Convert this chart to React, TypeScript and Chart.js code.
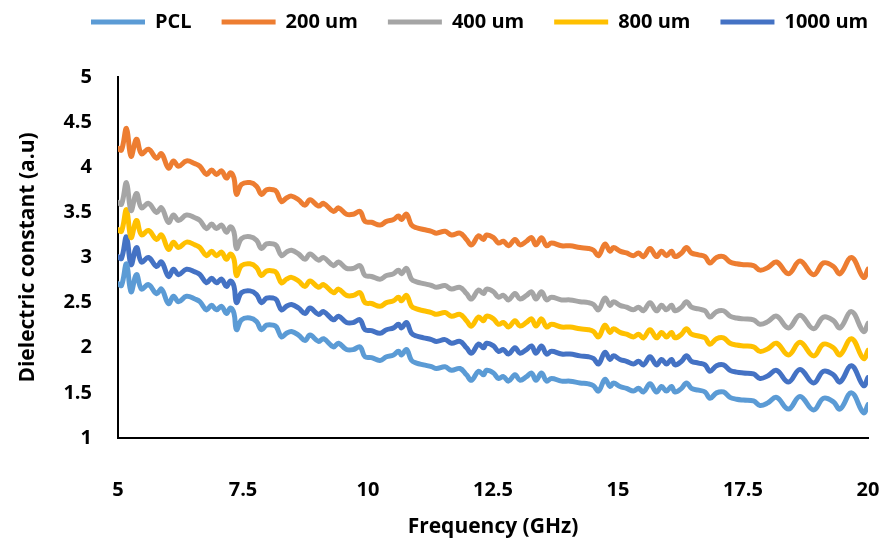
import React, { useEffect, useRef } from "react";
import { Chart, registerables } from "chart.js";

Chart.register(...registerables);

const freq = [
  5.00, 5.07, 5.17, 5.26, 5.37, 5.47, 5.61, 5.77, 5.87, 6.01,
  6.11, 6.21, 6.37, 6.54, 6.64, 6.77, 6.87, 6.97, 7.07, 7.17,
  7.25, 7.32, 7.37, 7.47, 7.64, 7.77, 7.87, 7.97, 8.11, 8.17,
  8.27, 8.37, 8.47, 8.61, 8.74, 8.84, 9.01, 9.11, 9.31, 9.41,
  9.57, 9.71, 9.84, 9.94, 10.07, 10.24, 10.37, 10.51, 10.61, 10.67,
  10.77, 10.87, 10.97, 11.11, 11.27, 11.37, 11.54, 11.67, 11.84, 11.97,
  12.07, 12.21, 12.31, 12.37, 12.51, 12.61, 12.71, 12.81, 12.94, 13.04,
  13.17, 13.27, 13.36, 13.47, 13.57, 13.67, 13.87, 14.04, 14.24, 14.41,
  14.51, 14.61, 14.74, 14.84, 14.91, 15.04, 15.17, 15.31, 15.41, 15.51,
  15.64, 15.77, 15.87, 15.97, 16.07, 16.14, 16.27, 16.37, 16.47, 16.61,
  16.74, 16.84, 16.97, 17.11, 17.24, 17.37, 17.51, 17.71, 17.84, 18.00,
  18.17, 18.41, 18.64, 18.91, 19.11, 19.31, 19.44, 19.67, 19.91, 20.00,
];

const pcl = [
  2.71, 2.69, 2.93, 2.62, 2.81, 2.65, 2.70, 2.60, 2.65, 2.49,
  2.57, 2.51, 2.57, 2.54, 2.51, 2.42, 2.47, 2.42, 2.46, 2.38,
  2.44, 2.38, 2.20, 2.31, 2.33, 2.29, 2.20, 2.25, 2.25, 2.23,
  2.12, 2.16, 2.18, 2.14, 2.08, 2.14, 2.07, 2.10, 2.01, 2.05,
  1.98, 1.98, 2.01, 1.90, 1.89, 1.86, 1.90, 1.92, 1.96, 1.92,
  1.98, 1.86, 1.83, 1.81, 1.79, 1.77, 1.79, 1.75, 1.77, 1.70,
  1.64, 1.74, 1.70, 1.75, 1.72, 1.66, 1.68, 1.63, 1.70, 1.64,
  1.68, 1.72, 1.64, 1.72, 1.63, 1.66, 1.63, 1.63, 1.61, 1.60,
  1.58, 1.52, 1.65, 1.57, 1.61, 1.57, 1.55, 1.52, 1.55, 1.51,
  1.60, 1.51, 1.57, 1.52, 1.57, 1.51, 1.55, 1.61, 1.55, 1.53,
  1.51, 1.44, 1.50, 1.51, 1.45, 1.43, 1.42, 1.41, 1.36, 1.39,
  1.45, 1.32, 1.46, 1.31, 1.44, 1.40, 1.32, 1.50, 1.28, 1.37,
];

const um200 = [
  4.21, 4.19, 4.43, 4.12, 4.31, 4.15, 4.20, 4.10, 4.15, 3.99,
  4.07, 4.01, 4.07, 4.04, 4.01, 3.92, 3.97, 3.92, 3.96, 3.88,
  3.94, 3.88, 3.70, 3.81, 3.83, 3.79, 3.70, 3.75, 3.75, 3.73,
  3.62, 3.66, 3.68, 3.64, 3.58, 3.64, 3.57, 3.60, 3.51, 3.55,
  3.48, 3.48, 3.51, 3.40, 3.39, 3.36, 3.40, 3.42, 3.46, 3.42,
  3.48, 3.36, 3.33, 3.31, 3.29, 3.27, 3.29, 3.25, 3.27, 3.20,
  3.14, 3.24, 3.20, 3.25, 3.22, 3.16, 3.18, 3.13, 3.20, 3.14,
  3.18, 3.22, 3.14, 3.22, 3.13, 3.16, 3.13, 3.13, 3.11, 3.10,
  3.08, 3.02, 3.15, 3.07, 3.11, 3.07, 3.05, 3.02, 3.05, 3.01,
  3.10, 3.01, 3.07, 3.02, 3.07, 3.01, 3.05, 3.11, 3.05, 3.03,
  3.01, 2.94, 3.00, 3.01, 2.95, 2.93, 2.92, 2.91, 2.86, 2.89,
  2.95, 2.82, 2.96, 2.81, 2.94, 2.90, 2.82, 3.00, 2.78, 2.87,
];

const um400 = [
  3.61, 3.59, 3.83, 3.52, 3.71, 3.55, 3.60, 3.50, 3.55, 3.39,
  3.47, 3.41, 3.47, 3.44, 3.41, 3.32, 3.37, 3.32, 3.36, 3.28,
  3.34, 3.28, 3.10, 3.21, 3.23, 3.19, 3.10, 3.15, 3.15, 3.13,
  3.02, 3.06, 3.08, 3.04, 2.98, 3.04, 2.97, 3.00, 2.91, 2.95,
  2.88, 2.88, 2.91, 2.80, 2.79, 2.76, 2.80, 2.82, 2.86, 2.82,
  2.88, 2.76, 2.73, 2.71, 2.69, 2.67, 2.69, 2.65, 2.67, 2.60,
  2.54, 2.64, 2.60, 2.65, 2.62, 2.56, 2.58, 2.53, 2.60, 2.54,
  2.58, 2.62, 2.54, 2.62, 2.53, 2.56, 2.53, 2.53, 2.51, 2.50,
  2.48, 2.42, 2.55, 2.47, 2.51, 2.47, 2.45, 2.42, 2.45, 2.41,
  2.50, 2.41, 2.47, 2.42, 2.47, 2.41, 2.45, 2.51, 2.45, 2.43,
  2.41, 2.34, 2.40, 2.41, 2.35, 2.33, 2.32, 2.31, 2.26, 2.29,
  2.35, 2.22, 2.36, 2.21, 2.34, 2.30, 2.22, 2.40, 2.18, 2.27,
];

const um800 = [
  3.31, 3.29, 3.53, 3.22, 3.41, 3.25, 3.30, 3.20, 3.25, 3.09,
  3.17, 3.11, 3.17, 3.14, 3.11, 3.02, 3.07, 3.02, 3.06, 2.98,
  3.04, 2.98, 2.80, 2.91, 2.93, 2.89, 2.80, 2.85, 2.85, 2.83,
  2.72, 2.76, 2.78, 2.74, 2.68, 2.74, 2.67, 2.70, 2.61, 2.65,
  2.58, 2.58, 2.61, 2.50, 2.49, 2.46, 2.50, 2.52, 2.56, 2.52,
  2.58, 2.46, 2.43, 2.41, 2.39, 2.37, 2.39, 2.35, 2.37, 2.30,
  2.24, 2.34, 2.30, 2.35, 2.32, 2.26, 2.28, 2.23, 2.30, 2.24,
  2.28, 2.32, 2.24, 2.32, 2.23, 2.26, 2.23, 2.23, 2.21, 2.20,
  2.18, 2.12, 2.25, 2.17, 2.21, 2.17, 2.15, 2.12, 2.15, 2.11,
  2.20, 2.11, 2.17, 2.12, 2.17, 2.11, 2.15, 2.21, 2.15, 2.13,
  2.11, 2.04, 2.10, 2.11, 2.05, 2.03, 2.02, 2.01, 1.96, 1.99,
  2.05, 1.92, 2.06, 1.91, 2.04, 2.00, 1.92, 2.10, 1.88, 1.97,
];

const um1000 = [
  3.01, 2.99, 3.23, 2.92, 3.11, 2.95, 3.00, 2.90, 2.95, 2.79,
  2.87, 2.81, 2.87, 2.84, 2.81, 2.72, 2.77, 2.72, 2.76, 2.68,
  2.74, 2.68, 2.50, 2.61, 2.63, 2.59, 2.50, 2.55, 2.55, 2.53,
  2.42, 2.46, 2.48, 2.44, 2.38, 2.44, 2.37, 2.40, 2.31, 2.35,
  2.28, 2.28, 2.31, 2.20, 2.19, 2.16, 2.20, 2.22, 2.26, 2.22,
  2.28, 2.16, 2.13, 2.11, 2.09, 2.07, 2.09, 2.05, 2.07, 2.00,
  1.94, 2.04, 2.00, 2.05, 2.02, 1.96, 1.98, 1.93, 2.00, 1.94,
  1.98, 2.02, 1.94, 2.02, 1.93, 1.96, 1.93, 1.93, 1.91, 1.90,
  1.88, 1.82, 1.95, 1.87, 1.91, 1.87, 1.85, 1.82, 1.85, 1.81,
  1.90, 1.81, 1.87, 1.82, 1.87, 1.81, 1.85, 1.91, 1.85, 1.83,
  1.81, 1.74, 1.80, 1.81, 1.75, 1.73, 1.72, 1.71, 1.66, 1.69,
  1.75, 1.62, 1.76, 1.61, 1.74, 1.70, 1.62, 1.80, 1.58, 1.67,
];

const seriesNames = ["PCL", "200 um", "400 um", "800 um", "1000 um"];
const seriesValues = [pcl, um200, um400, um800, um1000];
const seriesColors = ["#5B9BD5", "#ED7D31", "#A5A5A5", "#FFC000", "#4472C4"];

const xTitle = "Frequency (GHz)";
const yTitle = "Dielectric constant (a.u)";

const FONT = "'Open Sans', 'Noto Sans', sans-serif";

const plainNumber = (v: number | string) => String(Number(v));

export default function App() {
  const ref = useRef<HTMLCanvasElement | null>(null);

  useEffect(() => {
    if (!ref.current) return;
    const legendPad = 30;
    const legendFont = 20;
    const legendMover = {
      id: "legendMover",
      afterLayout(chart: any) {
        const lg = chart.legend;
        if (!lg) return;
        const dx = 91 - (lg.left + legendPad);
        const dy = 22 - (lg.top + legendPad + legendFont / 2);
        lg.left += dx;
        lg.right += dx;
        lg.top += dy;
        lg.bottom += dy;
      },
    };

    const chart = new Chart(ref.current, {
      type: "line",
      data: {
        datasets: seriesNames.map((name, i) => ({
          label: name,
          data: freq.map((f, j) => ({ x: f, y: seriesValues[i][j] })),
          borderColor: seriesColors[i],
          backgroundColor: seriesColors[i],
          borderWidth: 5,
          borderCapStyle: "round",
          borderJoinStyle: "round",
          pointRadius: 0,
          pointHoverRadius: 0,
          tension: 0.4,
          fill: false,
        })),
      },
      options: {
        animation: false,
        responsive: false,
        devicePixelRatio: 1,
        layout: { padding: { top: 17, right: 23, bottom: 0, left: 0 } },
        plugins: {
          tooltip: { enabled: false },
          legend: {
            position: "top",
            align: "start",
            labels: {
              usePointStyle: true,
              pointStyle: "line",
              pointStyleWidth: 54,
              padding: legendPad,
              color: "#000",
              font: { family: FONT, size: legendFont, weight: "bold" },
            },
          },
        },
        scales: {
          x: {
            type: "linear",
            min: 5,
            max: 20,
            grid: { display: false, drawTicks: false },
            border: { display: true, color: "#000", width: 2 },
            ticks: {
              stepSize: 2.5,
              padding: 40,
              color: "#000",
              font: { family: FONT, size: 20, weight: "bold" },
              callback: (v: number) => plainNumber(v),
            },
            title: {
              display: true,
              text: xTitle,
              color: "#000",
              padding: { top: 0, bottom: 5 },
              font: { family: FONT, size: 21, weight: "bold" },
            },
            afterFit(scale: any) {
              scale.height = 107;
              scale.paddingLeft = 0;
              scale.paddingRight = 0;
            },
          },
          y: {
            type: "linear",
            min: 1,
            max: 5,
            grid: { display: false, drawTicks: false },
            border: { display: true, color: "#000", width: 2 },
            ticks: {
              stepSize: 0.5,
              padding: 26,
              color: "#000",
              font: { family: FONT, size: 20, weight: "bold" },
              callback: (v: number) => plainNumber(v),
            },
            title: {
              display: true,
              text: yTitle,
              color: "#000",
              padding: { top: 15, bottom: 0 },
              font: { family: FONT, size: 21, weight: "bold" },
            },
            afterFit(scale: any) {
              scale.width = 118;
              scale.paddingTop = 0;
              scale.paddingBottom = 0;
            },
          },
        },
      },
      plugins: [legendMover],
    } as any);

    return () => chart.destroy();
  }, []);

  return (
    <div style={{ position: "absolute", left: 0, top: 0, width: 891, height: 545, background: "#fff" }}>
      <canvas ref={ref} width={891} height={545} style={{ display: "block" }} />
    </div>
  );
}
